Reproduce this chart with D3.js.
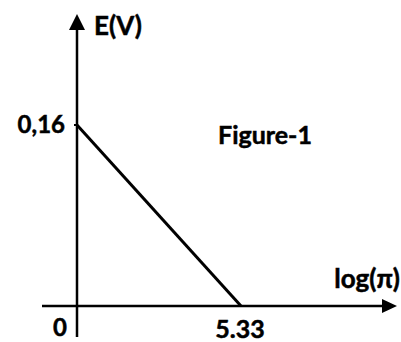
<!DOCTYPE html>
<html>
<head>
<meta charset="utf-8">
<script src="https://cdn.jsdelivr.net/npm/d3@7"></script>
<style>
  body { margin: 0; background: #fff; }
  text { font-family: "Lato", "Open Sans", sans-serif; font-weight: bold; fill: #000; stroke: #000; stroke-width: 0.5px; }
</style>
</head>
<body>
<div id="chart"></div>
<script>
// data
const lineX = [0, 5.33];
const lineY = [0.16, 0];
const yTickLabels = ["0,16"];
const xTickLabels = ["5.33"];
const axisTitles = ["log(\u03c0)", "E(V)"];
const figureTitle = "Figure-1";

const width = 401, height = 342;

const svg = d3.select("#chart").append("svg")
    .attr("width", width)
    .attr("height", height);

// scales
const x = d3.scaleLinear().domain([0, 5.33]).range([77, 241]);
const y = d3.scaleLinear().domain([0, 0.16]).range([306, 125]);

const x0 = x(0), y0 = y(0);

// horizontal axis + arrow
svg.append("line")
    .attr("x1", 42).attr("x2", 388)
    .attr("y1", y0).attr("y2", y0)
    .attr("stroke", "#000").attr("stroke-width", 2.5);
svg.append("path")
    .attr("d", `M397,${y0} L382,${y0 - 7} L382,${y0 + 7} Z`)
    .attr("fill", "#000");

// vertical axis + arrow
svg.append("line")
    .attr("x1", x0).attr("x2", x0)
    .attr("y1", 337).attr("y2", 24)
    .attr("stroke", "#000").attr("stroke-width", 2.5);
svg.append("path")
    .attr("d", `M${x0},14 L${x0 - 8},30 L${x0 + 8},30 Z`)
    .attr("fill", "#000");

// the line
const pts = lineX.map((d, i) => [d, lineY[i]]);
svg.append("path")
    .datum(pts)
    .attr("d", d3.line().x(d => x(d[0])).y(d => y(d[1])))
    .attr("fill", "none")
    .attr("stroke", "#000")
    .attr("stroke-width", 3);

// small tick at 0,16
svg.append("line")
    .attr("x1", x0 - 3).attr("x2", x0)
    .attr("y1", y(0.16)).attr("y2", y(0.16))
    .attr("stroke", "#000").attr("stroke-width", 2);

// labels
svg.append("text")
    .attr("x", 65).attr("y", y(0.16) + 8)
    .attr("text-anchor", "end")
    .style("font-size", "24px")
    .text(yTickLabels[0]);

svg.append("text")
    .attr("x", 67).attr("y", 336)
    .attr("text-anchor", "end")
    .style("font-size", "24px")
    .text("0");

svg.append("text")
    .attr("x", x(5.33) - 1).attr("y", 338)
    .attr("text-anchor", "middle")
    .style("font-size", "25px")
    .text(xTickLabels[0]);

svg.append("text")
    .attr("x", 400).attr("y", 288)
    .attr("text-anchor", "end")
    .style("font-size", "26px")
    .text(axisTitles[0]);

svg.append("text")
    .attr("x", 94).attr("y", 35)
    .style("font-size", "26px")
    .text(axisTitles[1]);

svg.append("text")
    .attr("x", 218).attr("y", 144)
    .style("font-size", "25px")
    .text(figureTitle);
</script>
</body>
</html>
